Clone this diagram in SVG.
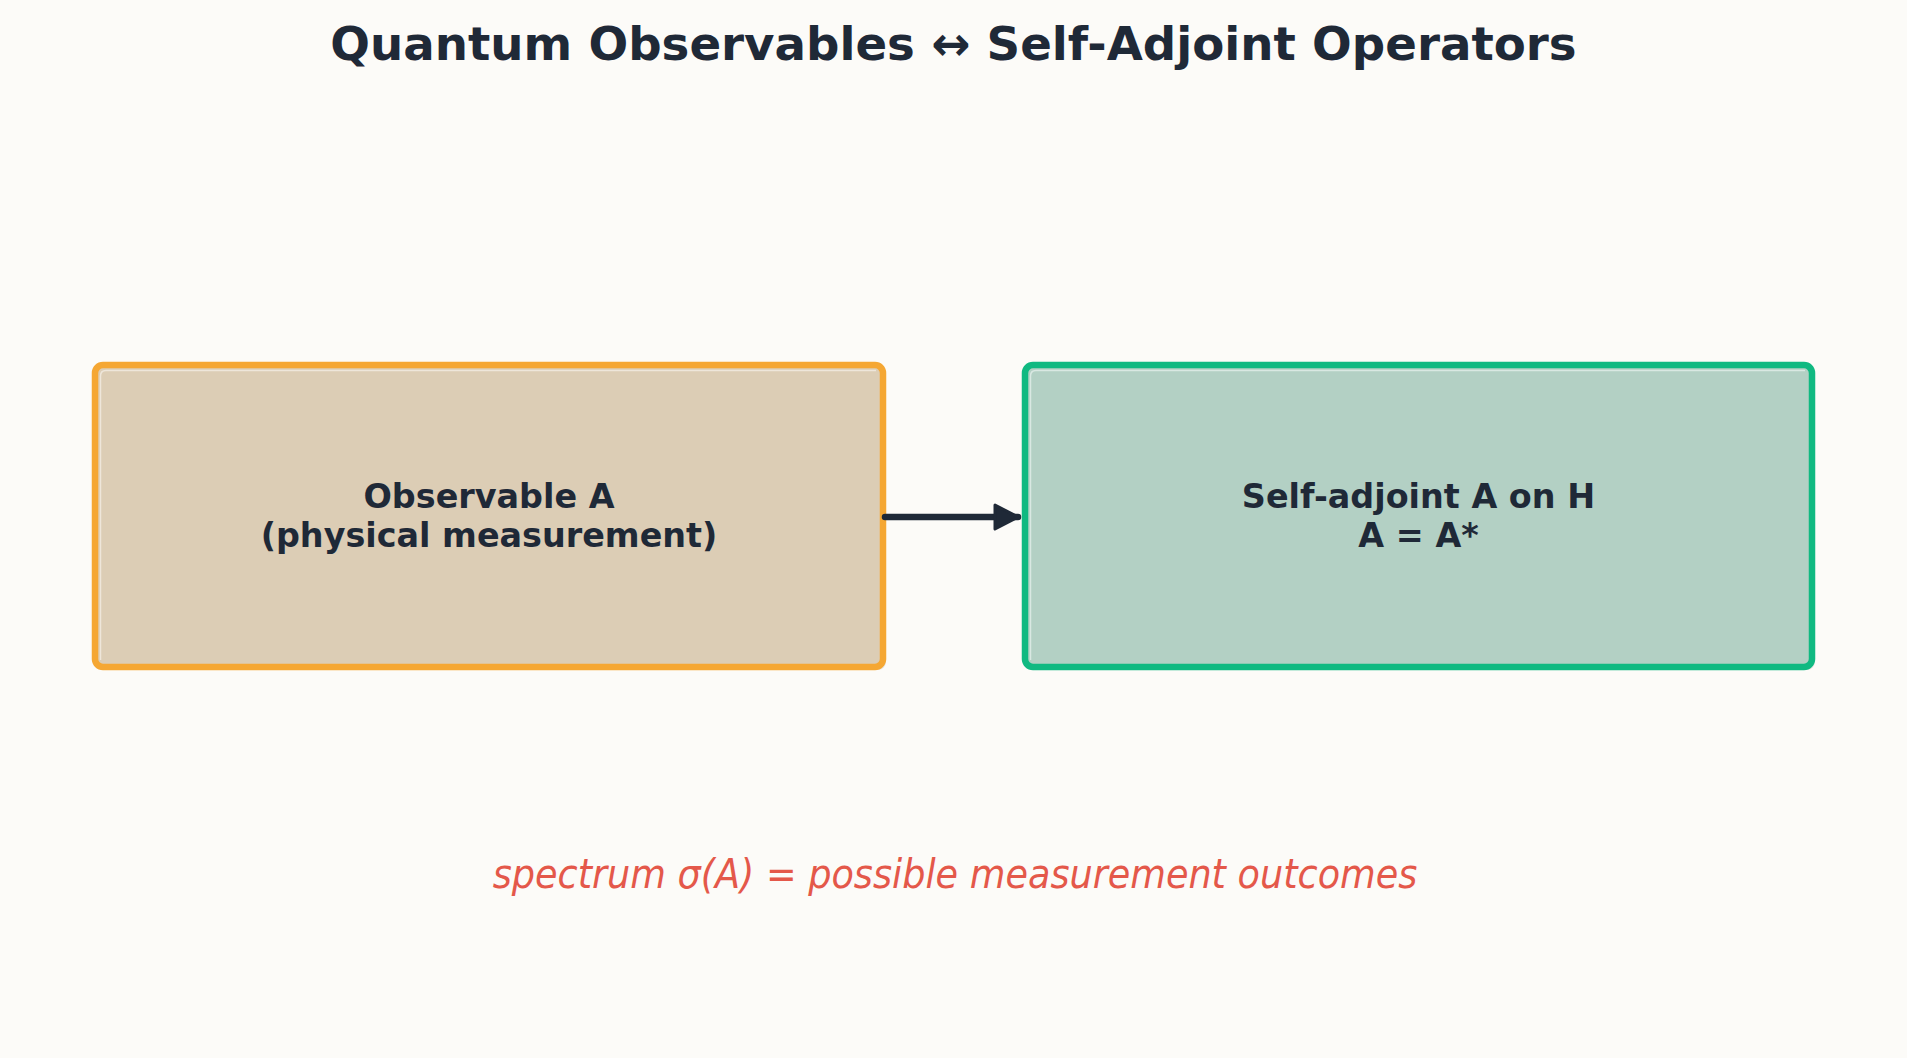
<svg xmlns="http://www.w3.org/2000/svg" width="1907" height="1058" viewBox="0 0 1907 1058">
<defs>
<style>
.title{font-family:"DejaVu Sans",sans-serif;font-weight:bold;font-size:46.7px;fill:#1f2937;text-anchor:middle}
.lbl{font-family:"DejaVu Sans",sans-serif;font-weight:bold;font-size:33.4px;fill:#1f2937;text-anchor:middle}
.foot{font-family:"DejaVu Sans Condensed","DejaVu Sans",sans-serif;font-style:italic;font-size:40.7px;fill:#e4584a;text-anchor:middle}
.shadow{fill:#000;opacity:0.08}
.hl{fill:none;stroke:#ffffff;stroke-opacity:0.5;stroke-width:1.5}
</style>
<marker id="ah" viewBox="0 0 28 30" refX="26" refY="15" markerWidth="28" markerHeight="30" orient="auto" markerUnits="userSpaceOnUse">
<path d="M3,3 L26,15 L3,27 Z" fill="#1f2937" stroke="#1f2937" stroke-width="3" stroke-linejoin="round"/>
</marker>
</defs>
<rect width="1907" height="1058" fill="#fcfbf8"/>
<text class="title" x="953.5" y="60">Quantum Observables ↔ Self-Adjoint Operators</text>
<g id="observable">
<rect class="shadow" x="98" y="368" width="788" height="302" rx="8"/>
<rect x="95" y="365" width="788" height="302" rx="8" fill="#dccdb5" stroke="#f5a733" stroke-width="6.5"/>
<path class="hl" d="M100.5,660 V376 Q100.5,370.5 106,370.5 H876"/>
<text class="lbl" x="489" y="508">Observable A</text>
<text class="lbl" x="489" y="547">(physical measurement)</text>
</g>
<g id="selfadjoint">
<rect class="shadow" x="1028" y="368" width="787" height="302" rx="8"/>
<rect x="1025" y="365" width="787" height="302" rx="8" fill="#b3d0c4" stroke="#10b981" stroke-width="6.5"/>
<path class="hl" d="M1030.5,660 V376 Q1030.5,370.5 1036,370.5 H1805"/>
<text class="lbl" x="1418.5" y="508">Self-adjoint A on H</text>
<text class="lbl" x="1418.5" y="547">A = A*</text>
</g>
<g id="connectors">
<line x1="885" y1="517" x2="1018" y2="517" stroke="#1f2937" stroke-width="6.5" stroke-linecap="round" marker-end="url(#ah)"/>
</g>
<text class="foot" x="955" y="888">spectrum σ(A) = possible measurement outcomes</text>
</svg>
